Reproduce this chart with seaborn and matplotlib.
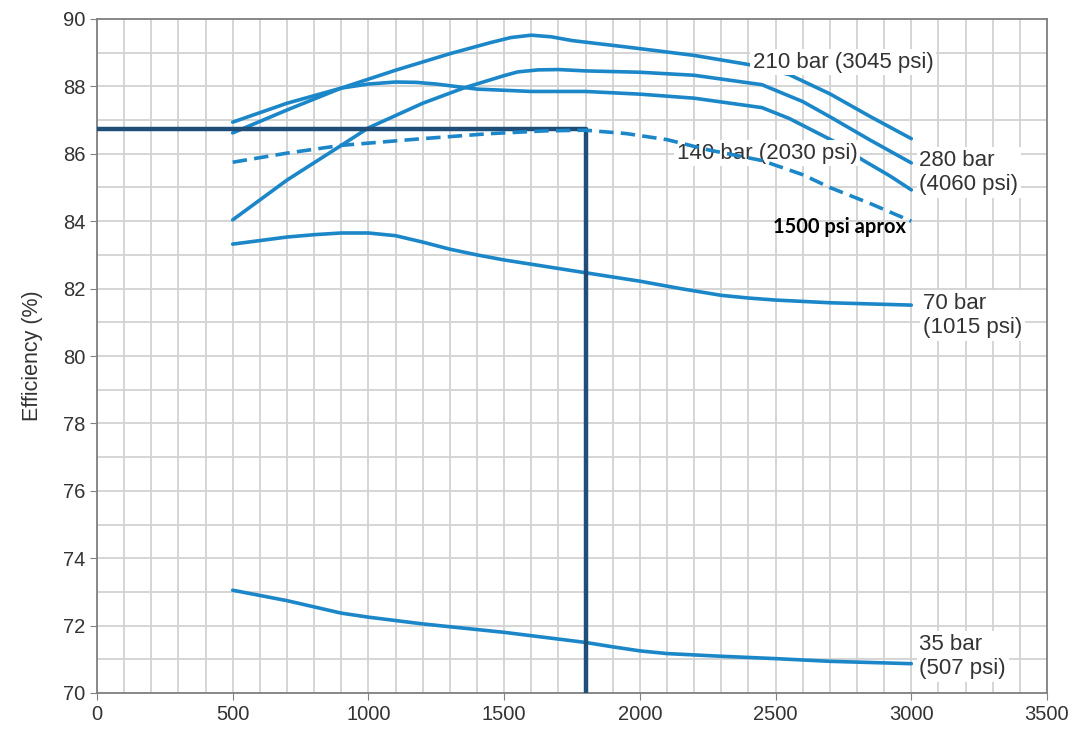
import numpy as np
import pandas as pd
import seaborn as sns
import matplotlib
matplotlib.use("Agg")
from matplotlib import pyplot as plt
from matplotlib.ticker import MultipleLocator

# curve data (speed vs efficiency)
x_a = [500, 700, 900, 1100, 1300, 1450, 1525, 1600, 1675, 1750, 1950, 2200, 2400, 2550, 2700, 2850, 3000]
y_a = [86.62, 87.30, 87.95, 88.48, 88.97, 89.30, 89.45, 89.52, 89.47, 89.36, 89.17, 88.92, 88.65, 88.35, 87.78, 87.10, 86.45]

x_b = [500, 700, 900, 1000, 1200, 1350, 1500, 1550, 1625, 1700, 1800, 2000, 2200, 2450, 2600, 2700, 2850, 3000]
y_b = [84.04, 85.22, 86.25, 86.77, 87.50, 87.95, 88.32, 88.43, 88.49, 88.50, 88.46, 88.42, 88.33, 88.05, 87.55, 87.10, 86.40, 85.73]

x_c = [500, 700, 900, 1000, 1100, 1175, 1250, 1400, 1600, 1800, 2000, 2200, 2450, 2550, 2720, 2820, 2920, 3000]
y_c = [86.94, 87.50, 87.95, 88.07, 88.13, 88.12, 88.07, 87.92, 87.85, 87.85, 87.77, 87.65, 87.37, 87.05, 86.35, 85.82, 85.35, 84.93]

x_dash = [500, 700, 900, 1200, 1450, 1650, 1800, 1950, 2100, 2250, 2450, 2600, 2700, 2850, 3000]
y_dash = [85.75, 86.02, 86.25, 86.45, 86.60, 86.68, 86.70, 86.60, 86.42, 86.12, 85.80, 85.38, 85.00, 84.52, 84.00]

x_70 = [500, 700, 800, 900, 1000, 1100, 1200, 1300, 1400, 1500, 1800, 2000, 2150, 2300, 2400, 2500, 2700, 3000]
y_70 = [83.32, 83.53, 83.60, 83.65, 83.65, 83.57, 83.38, 83.17, 83.00, 82.85, 82.47, 82.22, 82.00, 81.80, 81.72, 81.66, 81.58, 81.51]

x_35 = [500, 700, 900, 1000, 1200, 1500, 1800, 1900, 2000, 2100, 2300, 2500, 2700, 3000]
y_35 = [73.05, 72.74, 72.37, 72.25, 72.05, 71.80, 71.50, 71.37, 71.25, 71.17, 71.09, 71.02, 70.94, 70.87]

# operating point marker
ref_x = [0, 1800, 1800]
ref_y = [86.75, 86.75, 70]

labels = ["210 bar (3045 psi)", "280 bar\n(4060 psi)", "140 bar (2030 psi)",
          "1500 psi aprox", "70 bar\n(1015 psi)", "35 bar\n(507 psi)"]
label_x = [2415, 3030, 2135, 2492, 3042, 3030]
label_y = [88.72, 85.45, 86.02, 83.83, 81.20, 71.08]

blue = "#1b87c9"
navy = "#1f4e79"
txt = "#333333"

sns.set_style("white")
plt.rcParams['font.family'] = ['Liberation Sans', 'DejaVu Sans']

fig = plt.figure(figsize=(10.81, 7.29), dpi=100)
ax = fig.add_axes([97/1081, 36/729, 950/1081, 674/729])

for xs, ys in [(x_a, y_a), (x_b, y_b), (x_c, y_c), (x_70, y_70), (x_35, y_35)]:
    sns.lineplot(x=xs, y=ys, ax=ax, color=blue, lw=2.6, sort=False, estimator=None, zorder=3)

sns.lineplot(x=x_dash, y=y_dash, ax=ax, color=blue, lw=2.6, sort=False, estimator=None,
             linestyle=(0, (4, 2)), zorder=6)
sns.lineplot(x=ref_x, y=ref_y, ax=ax, color=navy, lw=3.2, sort=False, estimator=None, zorder=4)

for i, lab in enumerate(labels):
    if lab == "1500 psi aprox":
        ax.text(label_x[i], label_y[i], lab, ha="left", va="center", fontsize=14.5,
                fontweight="bold", family=["Lato", "DejaVu Sans"], color="black", zorder=5)
    else:
        ax.text(label_x[i], label_y[i], lab, ha="left", va="center", fontsize=16,
                color=txt, zorder=5,
                bbox=dict(facecolor="white", edgecolor="none", pad=2))

ax.set_xlim(0, 3500)
ax.set_ylim(70, 90)
ax.xaxis.set_major_locator(MultipleLocator(500))
ax.xaxis.set_minor_locator(MultipleLocator(100))
ax.yaxis.set_major_locator(MultipleLocator(2))
ax.yaxis.set_minor_locator(MultipleLocator(1))
ax.grid(which="both", color="#d2d2d2", lw=1.3, zorder=0)
ax.set_axisbelow(True)

for s in ax.spines.values():
    s.set_color("#808080")
    s.set_linewidth(1.3)
ax.tick_params(which="major", direction="out", length=5, color="#808080",
               labelsize=14.5, labelcolor=txt, left=True, bottom=True)
ax.tick_params(which="minor", length=0)
ax.set_ylabel("Efficiency (%)", fontsize=15.5, color=txt, labelpad=14)
ax.set_xlabel("")

fig.savefig("out.png", dpi=100)
